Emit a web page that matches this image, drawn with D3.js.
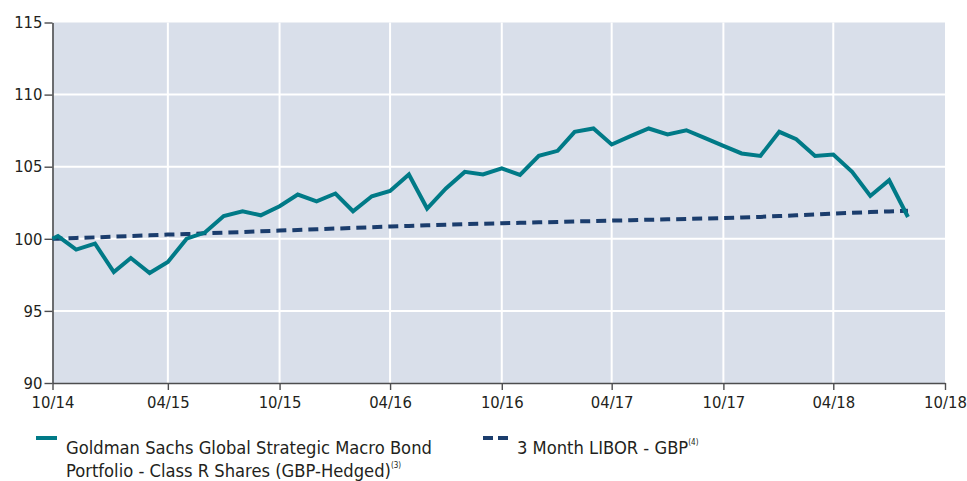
<!DOCTYPE html>
<html>
<head>
<meta charset="utf-8">
<script src="https://cdn.jsdelivr.net/npm/d3@7"></script>
<style>
  body { margin: 0; background: #fff; }
  svg text { font-family: "DejaVu Sans Condensed", "Liberation Sans Narrow", sans-serif; fill: #231f20; }
</style>
</head>
<body>
<div id="chart"></div>
<script>
// inception date, then month-end values
var dates = [
  "2014-10-22", "2014-10-31", "2014-11-30", "2014-12-31",
  "2015-01-31", "2015-02-28", "2015-03-31", "2015-04-30", "2015-05-31", "2015-06-30",
  "2015-07-31", "2015-08-31", "2015-09-30", "2015-10-31", "2015-11-30", "2015-12-31",
  "2016-01-31", "2016-02-29", "2016-03-31", "2016-04-30", "2016-05-31", "2016-06-30",
  "2016-07-31", "2016-08-31", "2016-09-30", "2016-10-31", "2016-11-30", "2016-12-31",
  "2017-01-31", "2017-02-28", "2017-03-31", "2017-04-30", "2017-05-31", "2017-06-30",
  "2017-07-31", "2017-08-31", "2017-09-30", "2017-10-31", "2017-11-30", "2017-12-31",
  "2018-01-31", "2018-02-28", "2018-03-31", "2018-04-30", "2018-05-31", "2018-06-30",
  "2018-07-31", "2018-08-31"
];
var fundValues = [
  100.00, 100.19, 99.25, 99.67,
  97.69, 98.67, 97.63, 98.39, 100.01, 100.43, 101.58, 101.91, 101.63, 102.26, 103.07, 102.60,
  103.14, 101.91, 102.95, 103.32, 104.46, 102.10, 103.49, 104.64, 104.46, 104.88, 104.43, 105.75,
  106.10, 107.42, 107.65, 106.54, 107.12, 107.65, 107.24, 107.53, 107.00, 106.44, 105.92, 105.75,
  107.42, 106.91, 105.75, 105.85, 104.64, 102.97, 104.06, 101.51
];
var liborValues = [
  100.00, 100.01, 100.06, 100.10,
  100.15, 100.19, 100.24, 100.29, 100.33, 100.38, 100.43, 100.47, 100.52, 100.57, 100.61, 100.66,
  100.71, 100.75, 100.80, 100.85, 100.89, 100.94, 100.98, 101.02, 101.05, 101.08, 101.11, 101.14,
  101.17, 101.20, 101.23, 101.26, 101.29, 101.32, 101.35, 101.38, 101.41, 101.44, 101.48, 101.52,
  101.58, 101.63, 101.69, 101.75, 101.80, 101.85, 101.90, 101.95
];
var xTicks = ["2014-10-22", "2015-04-30", "2015-10-31", "2016-04-30", "2016-10-31",
              "2017-04-30", "2017-10-31", "2018-04-30", "2018-10-31"];
var yTicks = [90, 95, 100, 105, 110, 115];

var fundName = ["Goldman Sachs Global Strategic Macro Bond", "Portfolio - Class R Shares (GBP-Hedged)"];
var fundNote = "(3)";
var liborName = "3 Month LIBOR - GBP";
var liborNote = "(4)";

var width = 967, height = 481;
var margin = {top: 22.5, right: 22, bottom: 98, left: 52.5};
var teal = "#007a87", navy = "#1b3d6d", plotBg = "#d9dfea";

var parse = d3.timeParse("%Y-%m-%d");
var fund = dates.map(function(d, i) { return {date: parse(d), value: fundValues[i]}; });
var libor = dates.map(function(d, i) { return {date: parse(d), value: liborValues[i]}; });

var x = d3.scaleTime()
    .domain([parse(xTicks[0]), parse(xTicks[xTicks.length - 1])])
    .range([margin.left, width - margin.right]);
var y = d3.scaleLinear()
    .domain([90, 115])
    .range([height - margin.bottom, margin.top]);

var svg = d3.select("#chart").append("svg")
    .attr("width", width)
    .attr("height", height);

svg.append("rect")
    .attr("x", x.range()[0])
    .attr("y", y(115))
    .attr("width", x.range()[1] - x.range()[0])
    .attr("height", y(90) - y(115))
    .attr("fill", plotBg);

// grid
svg.append("g")
    .selectAll("line")
    .data(yTicks.filter(function(t) { return t > 90 && t < 115; }))
    .enter().append("line")
    .attr("x1", x.range()[0]).attr("x2", x.range()[1])
    .attr("y1", function(d) { return y(d); })
    .attr("y2", function(d) { return y(d); })
    .attr("stroke", "#fff").attr("stroke-width", 2);

svg.append("g")
    .selectAll("line")
    .data(xTicks.slice(1, -1))
    .enter().append("line")
    .attr("x1", function(d) { return x(parse(d)); })
    .attr("x2", function(d) { return x(parse(d)); })
    .attr("y1", y(115)).attr("y2", y(90))
    .attr("stroke", "#fff").attr("stroke-width", 2);

// axes
var xAxis = svg.append("g")
    .attr("transform", "translate(0," + y(90) + ")")
    .call(d3.axisBottom(x)
        .tickValues(xTicks.map(parse))
        .tickFormat(d3.timeFormat("%m/%y"))
        .tickSize(7)
        .tickSizeOuter(0)
        .tickPadding(6));
var yAxis = svg.append("g")
    .attr("transform", "translate(" + x.range()[0] + ",0)")
    .call(d3.axisLeft(y)
        .tickValues(yTicks)
        .tickSize(8)
        .tickSizeOuter(0)
        .tickPadding(2));

[xAxis, yAxis].forEach(function(a) {
    a.select(".domain").attr("stroke", "#4d4d4f").attr("stroke-width", 1.6);
    a.selectAll(".tick line").attr("stroke", "#4d4d4f").attr("stroke-width", 1.4);
    a.selectAll(".tick text").attr("font-size", 16.5).attr("fill", "#231f20");
});

// series
var line = d3.line()
    .x(function(d) { return x(d.date); })
    .y(function(d) { return y(d.value); });

svg.append("path")
    .datum(libor)
    .attr("d", line)
    .attr("fill", "none")
    .attr("stroke", navy)
    .attr("stroke-width", 4)
    .attr("stroke-dasharray", "10,6");

svg.append("path")
    .datum(fund)
    .attr("d", line)
    .attr("fill", "none")
    .attr("stroke", teal)
    .attr("stroke-width", 4)
    .attr("stroke-linejoin", "miter");

// legend
var leg = svg.append("g");
leg.append("line")
    .attr("x1", 36).attr("x2", 57).attr("y1", 438).attr("y2", 438)
    .attr("stroke", teal).attr("stroke-width", 4);
var t1 = leg.append("text").attr("x", 66).attr("y", 454).attr("font-size", 18.2);
t1.text(fundName[0]);
var t2 = leg.append("text").attr("x", 66).attr("y", 477).attr("font-size", 18.2);
t2.append("tspan").text(fundName[1]);
t2.append("tspan").attr("font-size", 8).attr("dy", -9).text(fundNote);

leg.append("line")
    .attr("x1", 483).attr("x2", 510).attr("y1", 438).attr("y2", 438)
    .attr("stroke", navy).attr("stroke-width", 4)
    .attr("stroke-dasharray", "10,5");
var t3 = leg.append("text").attr("x", 517).attr("y", 454).attr("font-size", 18.2);
t3.append("tspan").text(liborName);
t3.append("tspan").attr("font-size", 8).attr("dy", -9).text(liborNote);
</script>
</body>
</html>
